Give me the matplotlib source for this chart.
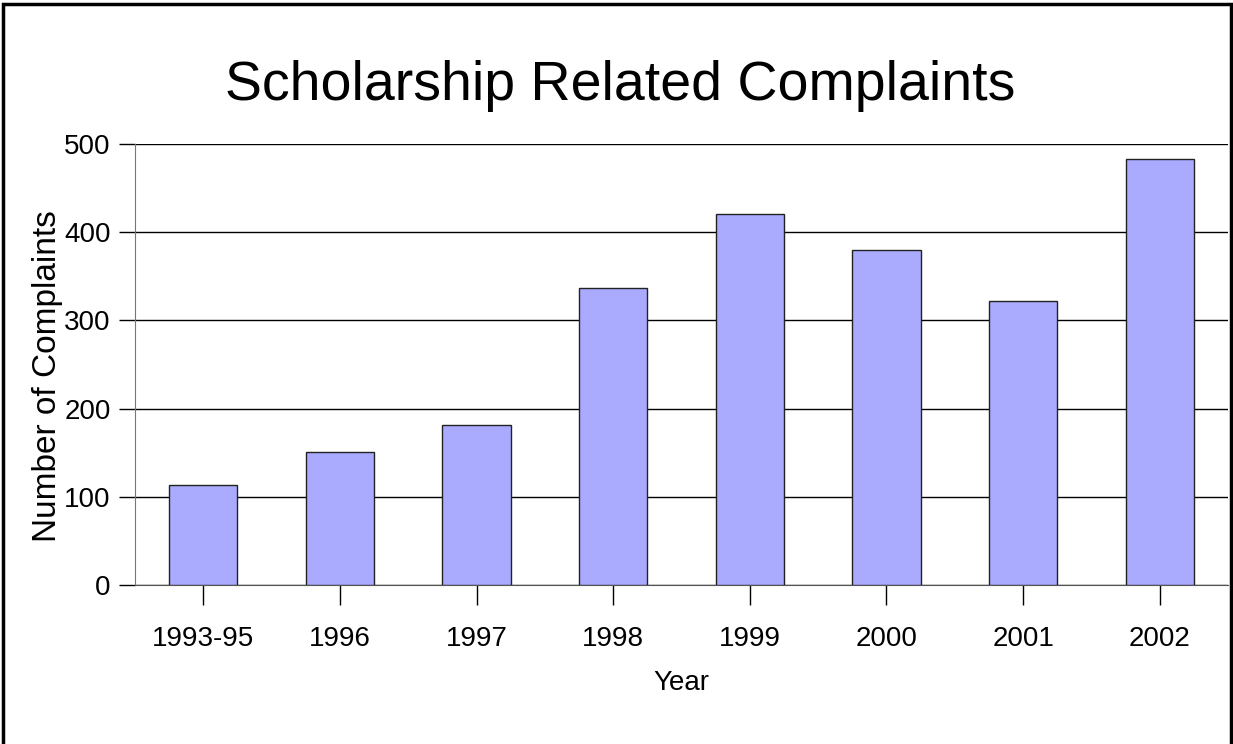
import matplotlib.pyplot as plt
from matplotlib.patches import Rectangle

years = ['1993-95', '1996', '1997', '1998', '1999', '2000', '2001', '2002']
complaints = [113, 151, 181, 337, 421, 380, 322, 483]
yticks = [0, 100, 200, 300, 400, 500]

plt.rcParams['font.family'] = ['Liberation Sans Narrow', 'Liberation Sans', 'DejaVu Sans']

fig = plt.figure(figsize=(12.33, 7.44), dpi=100)
ax = fig.add_axes([0.1095, 0.2137, 0.8865, 0.5928])

ax.bar(range(len(years)), complaints, width=0.5, color='#aaaaff',
       edgecolor='#222222', linewidth=1.0, zorder=3)

ax.set_xlim(-0.5, len(years) - 0.5)
ax.set_ylim(0, 500)
ax.set_yticks(yticks)
ax.set_xticks(range(len(years)))
ax.set_xticklabels(years)

ax.yaxis.grid(True, color='black', linewidth=1.0, zorder=0)
ax.set_axisbelow(True)

for side in ['top', 'right']:
    ax.spines[side].set_visible(False)
ax.spines['left'].set_color('#777777')
ax.spines['bottom'].set_color('#555555')

ax.tick_params(axis='y', length=11.5, width=1.0, color='black', labelsize=20, pad=6)
ax.tick_params(axis='x', length=14.5, width=1.0, color='black', labelsize=20, pad=15)

ax.set_xlabel('Year', fontsize=20, labelpad=13)
ax.set_ylabel('Number of Complaints', fontsize=24)
ax.yaxis.set_label_coords(-0.066, 0.474)
fig.text(0.503, 0.8656, 'Scholarship Related Complaints', fontsize=40,
         ha='center', va='baseline')

# frame around the whole picture, open at the bottom edge
fig.patches.append(Rectangle((0.0025, -0.05), 0.9955, 1.045, transform=fig.transFigure,
                             fill=False, edgecolor='black', linewidth=2.5))

plt.savefig('out.png', dpi=100)
